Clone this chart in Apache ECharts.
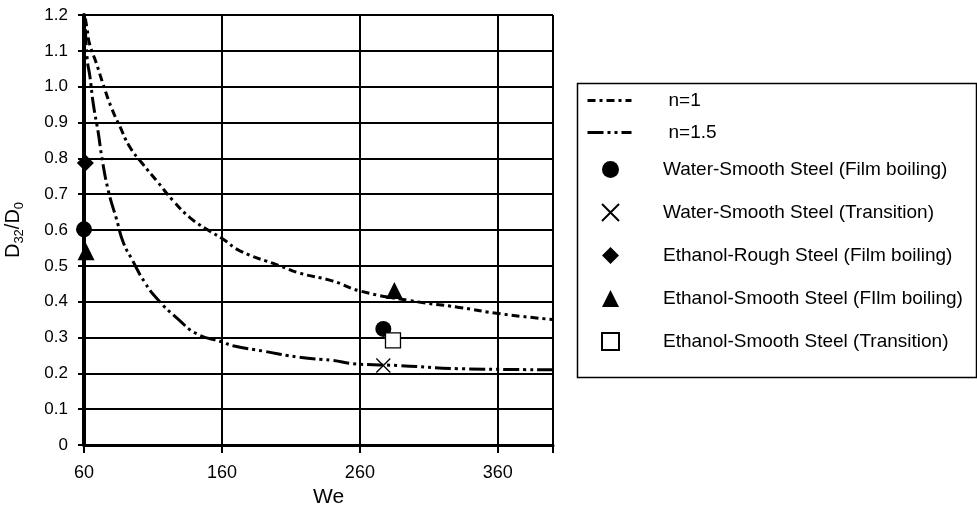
<!DOCTYPE html>
<html>
<head>
<meta charset="utf-8">
<script src="https://cdn.jsdelivr.net/npm/echarts@6/dist/echarts.min.js"></script>
<style>html,body{margin:0;padding:0;background:#fff;}#c{width:977px;height:513px;}</style>
</head>
<body>
<div id="c"></div>
<script>
// x axis origin (We) – ticks at 60,160,260,360
const X0 = 60;
const xTicks = [60, 160, 260, 360];
// n = 1 curve
const n1We  = [61, 62.4, 64, 69, 74, 80, 86, 93, 102, 113, 125, 137, 149, 161, 173, 202, 216, 240, 260, 296, 332, 362, 400];
const n1Val = [1.19, 1.157, 1.12, 1.065, 1.005, 0.94, 0.889, 0.833, 0.787, 0.736, 0.68, 0.634, 0.602, 0.574, 0.542, 0.5, 0.48, 0.458, 0.43, 0.403, 0.384, 0.366, 0.35];
// n = 1.5 curve
const n15We  = [61, 62.4, 64.3, 66.8, 70.4, 72.8, 77.6, 83.6, 88.5, 94.5, 104, 113, 128, 142, 160, 168, 190, 216, 240, 255, 270, 287, 332, 400];
const n15Val = [1.16, 1.074, 1.028, 0.95, 0.87, 0.806, 0.71, 0.63, 0.565, 0.52, 0.454, 0.408, 0.352, 0.31, 0.288, 0.277, 0.262, 0.245, 0.236, 0.227, 0.224, 0.222, 0.213, 0.21];
// experimental points
const waterFilmWe = [60, 277];        const waterFilmVal = [0.602, 0.324];
const waterTransWe = [277];           const waterTransVal = [0.222];
const ethRoughFilmWe = [61];          const ethRoughFilmVal = [0.787];
const ethSmoothFilmWe = [61.5, 285];  const ethSmoothFilmVal = [0.539, 0.431];
const ethSmoothTransWe = [284];       const ethSmoothTransVal = [0.292];

const lineNames = ['n=1', 'n=1.5'];
const pointNames = ['Water-Smooth Steel (Film boiling)', 'Water-Smooth Steel (Transition)', 'Ethanol-Rough Steel (Film boiling)', 'Ethanol-Smooth Steel (FIlm boiling)', 'Ethanol-Smooth Steel (Transition)'];

const pts = (we, v) => we.map((w, i) => [w - X0, v[i]]);
const FONT = "'Liberation Sans', Arial, Helvetica, sans-serif";

const chart = echarts.init(document.getElementById('c'), null, {renderer: 'canvas'});
chart.setOption({
  animation: false,
  backgroundColor: '#fff',
  textStyle: {fontFamily: FONT, color: '#000'},
  grid: {left: 84, top: 15, width: 469, height: 432},
  xAxis: {
    type: 'value', min: 0, max: 400 - X0, interval: 100,
    name: 'We', nameLocation: 'middle', nameGap: 42,
    nameTextStyle: {fontSize: 21, color: '#000', fontFamily: FONT, padding: [0, 0, 0, 20]},
    axisLine: {show: true, lineStyle: {color: '#000', width: 3}},
    axisTick: {show: true, length: 8, lineStyle: {color: '#000', width: 2}},
    axisLabel: {fontSize: 18, color: '#000', margin: 19, fontFamily: FONT,
      formatter: v => (xTicks.indexOf(v + X0) >= 0 ? String(v + X0) : '')},
    splitLine: {show: true, lineStyle: {color: '#000', width: 2}}
  },
  yAxis: {
    type: 'value', min: 0, max: 1.2, interval: 0.1,
    name: 'D{s|32}/D{s|0}', nameLocation: 'middle', nameGap: 58,
    nameTextStyle: {fontSize: 20, color: '#000', fontFamily: FONT,
      rich: {s: {fontSize: 13, color: '#000', fontFamily: FONT, padding: [12, 0, 0, 0]}}},
    axisLine: {show: true, lineStyle: {color: '#000', width: 4}},
    axisTick: {show: true, length: 6, lineStyle: {color: '#000', width: 2}},
    axisLabel: {fontSize: 17, color: '#000', margin: 16, fontFamily: FONT,
      formatter: v => (Math.abs(v) < 1e-9 ? '0' : v.toFixed(1))},
    splitLine: {show: true, lineStyle: {color: '#000', width: 2}}
  },
  legend: [
    {
      data: lineNames, orient: 'vertical', left: 581, top: 86, itemWidth: 44, itemHeight: 16, itemGap: 13,
      itemStyle: {opacity: 0}, lineStyle: {width: 3},
      selectedMode: false, textStyle: {fontSize: 19, color: '#000', fontFamily: FONT, padding: [0, 0, 0, 32]}
    },
    {
      data: pointNames, orient: 'vertical', left: 596, top: 155, itemWidth: 17, itemHeight: 17, itemGap: 24,
      selectedMode: false, textStyle: {fontSize: 19, color: '#000', fontFamily: FONT, padding: [0, 0, 0, 39]}
    }
  ],
  graphic: [{
    type: 'rect', left: 575, top: 81, z: 100, silent: true,
    shape: {width: 399, height: 294},
    style: {fill: 'none', stroke: '#000', lineWidth: 1.5}
  }],
  series: [
    {name: lineNames[0], type: 'line', smooth: true, symbol: 'none', z: 3,
      data: pts(n1We, n1Val), lineStyle: {color: '#000', width: 3, type: [8, 4, 3, 4]}, itemStyle: {color: '#000'}},
    {name: lineNames[1], type: 'line', smooth: true, symbol: 'none', z: 3,
      data: pts(n15We, n15Val), lineStyle: {color: '#000', width: 3, type: [16, 4, 3, 4, 3, 4]}, itemStyle: {color: '#000'}},
    {name: pointNames[0], type: 'scatter', symbol: 'circle', symbolSize: 16, z: 5,
      data: pts(waterFilmWe, waterFilmVal), itemStyle: {color: '#000', opacity: 1}},
    {name: pointNames[1], type: 'scatter', symbol: 'path://M0,0L10,10M10,0L0,10', symbolSize: 14, z: 5,
      data: pts(waterTransWe, waterTransVal), itemStyle: {color: 'rgba(0,0,0,0)', borderColor: '#000', borderWidth: 1.3, opacity: 1}},
    {name: pointNames[2], type: 'scatter', symbol: 'diamond', symbolSize: 17, z: 5,
      data: pts(ethRoughFilmWe, ethRoughFilmVal), itemStyle: {color: '#000', opacity: 1}},
    {name: pointNames[3], type: 'scatter', symbol: 'triangle', symbolSize: 17, z: 5,
      data: pts(ethSmoothFilmWe, ethSmoothFilmVal), itemStyle: {color: '#000', opacity: 1}},
    {name: pointNames[4], type: 'scatter', symbol: 'rect', symbolSize: 15, z: 5,
      data: pts(ethSmoothTransWe, ethSmoothTransVal), itemStyle: {color: '#fff', borderColor: '#000', borderWidth: 1.3, opacity: 1}}
  ]
});
</script>
</body>
</html>
